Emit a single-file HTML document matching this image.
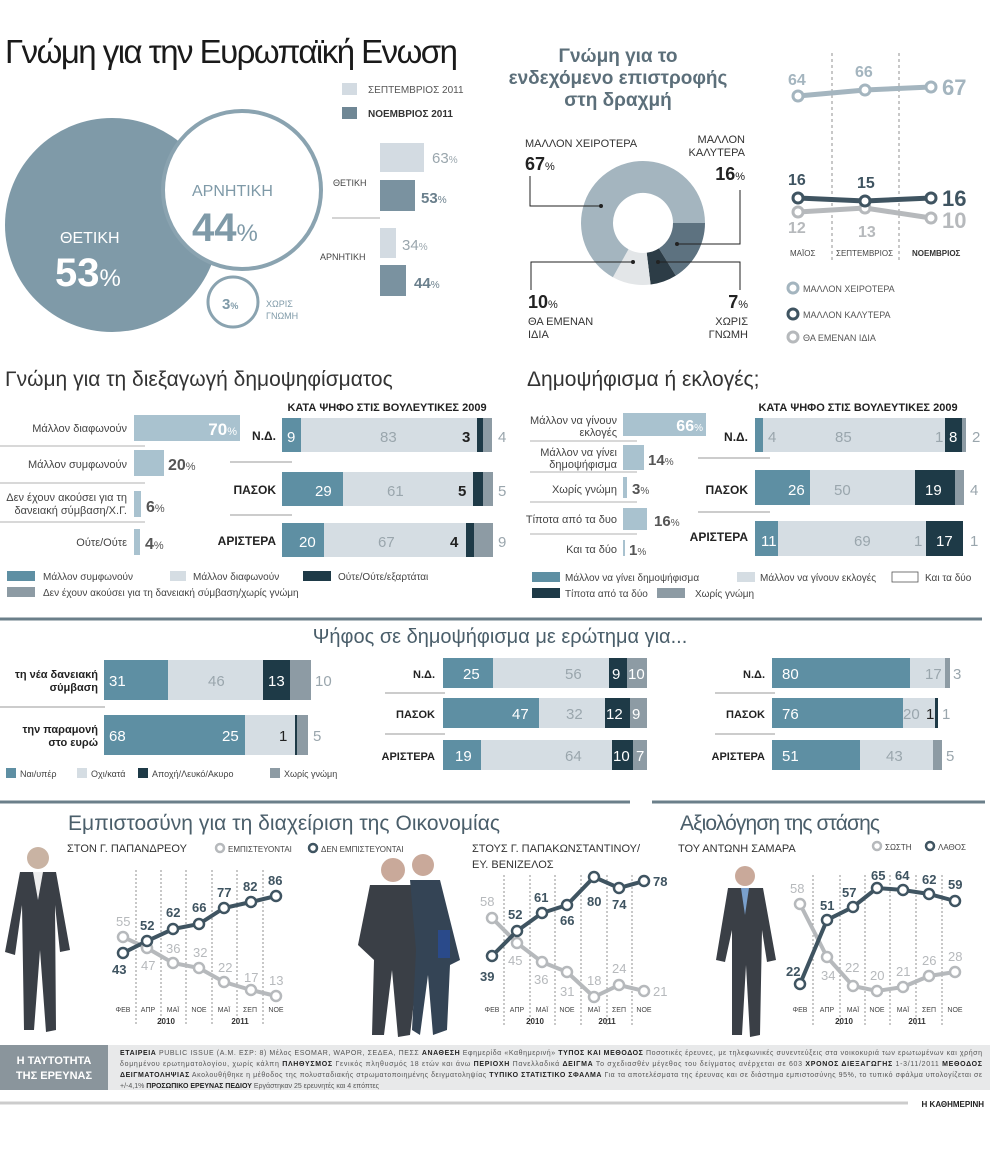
<!DOCTYPE html>
<html><head><meta charset="utf-8"><style>
html,body{margin:0;padding:0;background:#fff;}
svg{display:block;font-family:"Liberation Sans","DejaVu Sans",sans-serif;}
</style></head><body>
<svg width="1000" height="1152" viewBox="0 0 1000 1152" xmlns="http://www.w3.org/2000/svg">
<rect width="1000" height="1152" fill="#fff"/>

<text x="5" y="63" font-size="33" fill="#1a1a1a" textLength="453">Γνώμη για την Ευρωπαϊκή Ενωση</text>
<circle cx="112" cy="225" r="107" fill="#7f9aa8"/>
<circle cx="242" cy="190" r="79" fill="#fff" stroke="#8aa3b0" stroke-width="4"/>
<circle cx="233" cy="302" r="25" fill="#fff" stroke="#8aa3b0" stroke-width="3"/>
<text x="60" y="243" font-size="16" fill="#fff">ΘΕΤΙΚΗ</text>
<text x="55" y="286" font-size="40" font-weight="bold" fill="#fff">53<tspan font-size="24" font-weight="normal">%</tspan></text>
<text x="192" y="196" font-size="16" fill="#7f9aa8">ΑΡΝΗΤΙΚΗ</text>
<text x="192" y="241" font-size="40" font-weight="bold" fill="#7f9aa8">44<tspan font-size="24" font-weight="normal">%</tspan></text>
<text x="222" y="309" font-size="15" font-weight="bold" fill="#7f9aa8">3<tspan font-size="9">%</tspan></text>
<text x="266" y="307" font-size="9" fill="#7f9aa8">ΧΩΡΙΣ</text>
<text x="266" y="319" font-size="9" fill="#7f9aa8">ΓΝΩΜΗ</text>
<rect x="342" y="83" width="15" height="12" fill="#d3dbe2"/>
<text x="368" y="93" font-size="10" fill="#555">ΣΕΠΤΕΜΒΡΙΟΣ 2011</text>
<rect x="342" y="107" width="15" height="12" fill="#6f8795"/>
<text x="368" y="117" font-size="10" font-weight="bold" fill="#333">ΝΟΕΜΒΡΙΟΣ 2011</text>
<rect x="380" y="143" width="44" height="29" fill="#d3dbe2"/>
<text x="432" y="163" font-size="15" fill="#9aa6ad">63<tspan font-size="10">%</tspan></text>
<rect x="380" y="180" width="35" height="31" fill="#7a92a0"/>
<text x="421" y="203" font-size="15" font-weight="bold" fill="#6a7f8c">53<tspan font-size="10" font-weight="normal">%</tspan></text>
<text x="333" y="186" font-size="9" fill="#444">ΘΕΤΙΚΗ</text>
<line x1="332" y1="218" x2="380" y2="218" stroke="#aaa"/>
<rect x="380" y="228" width="16" height="30" fill="#d3dbe2"/>
<text x="402" y="250" font-size="15" fill="#9aa6ad">34<tspan font-size="10">%</tspan></text>
<rect x="380" y="265" width="26" height="31" fill="#7a92a0"/>
<text x="414" y="288" font-size="15" font-weight="bold" fill="#6a7f8c">44<tspan font-size="10" font-weight="normal">%</tspan></text>
<text x="320" y="260" font-size="9" fill="#444">ΑΡΝΗΤΙΚΗ</text>

<text x="618" y="62" font-size="19" font-weight="bold" fill="#5c6f7a" text-anchor="middle">Γνώμη για το</text>
<text x="618" y="84" font-size="19" font-weight="bold" fill="#5c6f7a" text-anchor="middle">ενδεχόμενο επιστροφής</text>
<text x="618" y="106" font-size="19" font-weight="bold" fill="#5c6f7a" text-anchor="middle">στη δραχμή</text>
<g transform="translate(643,223)">
<path d="M62,0 A62,62 0 0 1 32.8,52.6 L15.9,25.4 A30,30 0 0 0 30,0 Z" fill="#5d7280"/>
<path d="M32.8,52.6 A62,62 0 0 1 7.6,61.5 L3.7,29.8 A30,30 0 0 0 15.9,25.4 Z" fill="#2c3c46"/>
<path d="M7.6,61.5 A62,62 0 0 1 -30.1,54.2 L-14.5,26.2 A30,30 0 0 0 3.7,29.8 Z" fill="#e3e6e8"/>
<path d="M-30.1,54.2 A62,62 0 1 1 62,0 L30,0 A30,30 0 1 0 -14.5,26.2 Z" fill="#a4b5bf"/>
</g>
<text x="525" y="147" font-size="11" fill="#333">ΜΑΛΛΟΝ ΧΕΙΡΟΤΕΡΑ</text>
<text x="525" y="170" font-size="18" font-weight="bold" fill="#222">67<tspan font-size="11" font-weight="normal">%</tspan></text>
<polyline points="530,176 530,206 601,206" fill="none" stroke="#222"/>
<circle cx="601" cy="206" r="2" fill="#222"/>
<text x="745" y="143" font-size="11" fill="#333" text-anchor="end">ΜΑΛΛΟΝ</text>
<text x="745" y="156" font-size="11" fill="#333" text-anchor="end">ΚΑΛΥΤΕΡΑ</text>
<text x="745" y="180" font-size="18" font-weight="bold" fill="#222" text-anchor="end">16<tspan font-size="11" font-weight="normal">%</tspan></text>
<polyline points="740,190 740,244 677,244" fill="none" stroke="#222"/>
<circle cx="677" cy="244" r="2" fill="#222"/>
<polyline points="531,290 531,262 633,262" fill="none" stroke="#222"/>
<circle cx="633" cy="262" r="2" fill="#222"/>
<text x="528" y="308" font-size="18" font-weight="bold" fill="#222">10<tspan font-size="11" font-weight="normal">%</tspan></text>
<text x="528" y="325" font-size="11" fill="#333">ΘΑ ΕΜΕΝΑΝ</text>
<text x="528" y="338" font-size="11" fill="#333">ΙΔΙΑ</text>
<polyline points="740,290 740,262 658,262" fill="none" stroke="#222"/>
<circle cx="658" cy="262" r="2" fill="#222"/>
<text x="748" y="308" font-size="18" font-weight="bold" fill="#222" text-anchor="end">7<tspan font-size="11" font-weight="normal">%</tspan></text>
<text x="748" y="325" font-size="11" fill="#333" text-anchor="end">ΧΩΡΙΣ</text>
<text x="748" y="338" font-size="11" fill="#333" text-anchor="end">ΓΝΩΜΗ</text>

<line x1="832" y1="53" x2="832" y2="260" stroke="#777" stroke-dasharray="3,3" stroke-width="0.8"/>
<line x1="899" y1="53" x2="899" y2="260" stroke="#777" stroke-dasharray="3,3" stroke-width="0.8"/>
<polyline points="798,96 865,90 931,87" fill="none" stroke="#a4b5bf" stroke-width="5"/>
<polyline points="798,212 865,208 931,218" fill="none" stroke="#b6b9bc" stroke-width="5"/>
<polyline points="798,198 865,201 931,198" fill="none" stroke="#3f5461" stroke-width="5"/>
<g fill="#fff" stroke-width="3">
<circle cx="798" cy="96" r="5" stroke="#a4b5bf"/><circle cx="865" cy="90" r="5" stroke="#a4b5bf"/><circle cx="931" cy="87" r="5" stroke="#a4b5bf"/>
<circle cx="798" cy="212" r="5" stroke="#b6b9bc"/><circle cx="865" cy="208" r="5" stroke="#b6b9bc"/><circle cx="931" cy="218" r="5" stroke="#b6b9bc"/>
<circle cx="798" cy="198" r="5" stroke="#3f5461"/><circle cx="865" cy="201" r="5" stroke="#3f5461"/><circle cx="931" cy="198" r="5" stroke="#3f5461"/>
</g>
<g font-weight="bold">
<text x="788" y="85" font-size="16" fill="#a4b5bf">64</text>
<text x="855" y="77" font-size="16" fill="#a4b5bf">66</text>
<text x="942" y="95" font-size="22" fill="#a4b5bf">67</text>
<text x="788" y="185" font-size="16" fill="#3f5461">16</text>
<text x="857" y="188" font-size="16" fill="#3f5461">15</text>
<text x="942" y="206" font-size="22" fill="#3f5461">16</text>
<text x="788" y="233" font-size="16" fill="#b6b9bc">12</text>
<text x="858" y="237" font-size="16" fill="#b6b9bc">13</text>
<text x="942" y="228" font-size="22" fill="#b6b9bc">10</text>
</g>
<text x="790" y="256" font-size="8" fill="#444">ΜΑΪΟΣ</text>
<text x="836" y="256" font-size="8" fill="#444">ΣΕΠΤΕΜΒΡΙΟΣ</text>
<text x="912" y="256" font-size="8" font-weight="bold" fill="#333">ΝΟΕΜΒΡΙΟΣ</text>
<g fill="#fff" stroke-width="3">
<circle cx="793" cy="288" r="5" stroke="#a4b5bf"/>
<circle cx="793" cy="314" r="5" stroke="#3f5461"/>
<circle cx="793" cy="337" r="5" stroke="#b6b9bc"/>
</g>
<text x="803" y="292" font-size="9" fill="#555">ΜΑΛΛΟΝ ΧΕΙΡΟΤΕΡΑ</text>
<text x="803" y="318" font-size="9" fill="#555">ΜΑΛΛΟΝ ΚΑΛΥΤΕΡΑ</text>
<text x="803" y="341" font-size="9" fill="#555">ΘΑ ΕΜΕΝΑΝ ΙΔΙΑ</text>

<text x="5" y="386" font-size="21" fill="#333">Γνώμη για τη διεξαγωγή δημοψηφίσματος</text>
<g font-size="11" fill="#444" text-anchor="end">
<text x="127" y="432">Μάλλον διαφωνούν</text>
<text x="127" y="468">Μάλλον συμφωνούν</text>
<text x="127" y="501">Δεν έχουν ακούσει για τη</text>
<text x="127" y="514">δανειακή σύμβαση/Χ.Γ.</text>
<text x="127" y="546">Ούτε/Ούτε</text>
</g>
<g stroke="#999" stroke-width="0.8">
<line x1="0" y1="446" x2="145" y2="446"/><line x1="0" y1="483" x2="145" y2="483"/><line x1="0" y1="522" x2="145" y2="522"/>
</g>
<rect x="134" y="415" width="106" height="26" fill="#a9c2cf"/>
<text x="237" y="435" font-size="17" font-weight="bold" fill="#fff" text-anchor="end">70<tspan font-size="11" font-weight="normal">%</tspan></text>
<rect x="134" y="450" width="30" height="26" fill="#a9c2cf"/>
<text x="168" y="470" font-size="16" font-weight="bold" fill="#555">20<tspan font-size="11" font-weight="normal">%</tspan></text>
<rect x="134" y="491" width="7" height="26" fill="#a9c2cf"/>
<text x="146" y="512" font-size="16" font-weight="bold" fill="#555">6<tspan font-size="11" font-weight="normal">%</tspan></text>
<rect x="134" y="529" width="6" height="26" fill="#a9c2cf"/>
<text x="145" y="549" font-size="16" font-weight="bold" fill="#555">4<tspan font-size="11" font-weight="normal">%</tspan></text>

<text x="387" y="411" font-size="11" font-weight="bold" fill="#222" text-anchor="middle">ΚΑΤΑ ΨΗΦΟ ΣΤΙΣ ΒΟΥΛΕΥΤΙΚΕΣ 2009</text>
<g font-size="12" font-weight="bold" fill="#222" text-anchor="end">
<text x="276" y="440">Ν.Δ.</text><text x="276" y="494">ΠΑΣΟΚ</text><text x="276" y="545">ΑΡΙΣΤΕΡΑ</text>
</g>
<line x1="230" y1="462" x2="292" y2="462" stroke="#999"/><line x1="230" y1="515" x2="292" y2="515" stroke="#999"/>
<rect x="282" y="418" width="19" height="34" fill="#5e8fa3"/><rect x="301" y="418" width="176" height="34" fill="#d5dde3"/>
<rect x="477" y="418" width="6" height="34" fill="#1e3a47"/><rect x="483" y="418" width="9" height="34" fill="#8d9ba4"/>
<rect x="282" y="472" width="61" height="34" fill="#5e8fa3"/><rect x="343" y="472" width="130" height="34" fill="#d5dde3"/>
<rect x="473" y="472" width="10" height="34" fill="#1e3a47"/><rect x="483" y="472" width="10" height="34" fill="#8d9ba4"/>
<rect x="282" y="523" width="42" height="34" fill="#5e8fa3"/><rect x="324" y="523" width="142" height="34" fill="#d5dde3"/>
<rect x="466" y="523" width="8" height="34" fill="#1e3a47"/><rect x="474" y="523" width="19" height="34" fill="#8d9ba4"/>
<g font-size="15">
<text x="287" y="442" fill="#fff">9</text><text x="380" y="442" fill="#9aa6ad">83</text><text x="462" y="442" font-weight="bold" fill="#222">3</text><text x="498" y="442" fill="#9aa6ad">4</text>
<text x="315" y="496" fill="#fff">29</text><text x="387" y="496" fill="#9aa6ad">61</text><text x="458" y="496" font-weight="bold" fill="#222">5</text><text x="498" y="496" fill="#9aa6ad">5</text>
<text x="299" y="547" fill="#fff">20</text><text x="378" y="547" fill="#9aa6ad">67</text><text x="450" y="547" font-weight="bold" fill="#222">4</text><text x="498" y="547" fill="#9aa6ad">9</text>
</g>
<g font-size="10" fill="#444">
<rect x="7" y="571" width="28" height="10" fill="#5e8fa3"/><text x="43" y="580">Μάλλον συμφωνούν</text>
<rect x="170" y="571" width="16" height="10" fill="#d5dde3"/><text x="193" y="580">Μάλλον διαφωνούν</text>
<rect x="303" y="571" width="28" height="10" fill="#1e3a47"/><text x="338" y="580">Ούτε/Ούτε/εξαρτάται</text>
<rect x="7" y="587" width="28" height="10" fill="#8d9ba4"/><text x="43" y="596">Δεν έχουν ακούσει για τη δανειακή σύμβαση/χωρίς γνώμη</text>
</g>

<text x="527" y="386" font-size="21" fill="#333">Δημοψήφισμα ή εκλογές;</text>
<g font-size="11" fill="#444" text-anchor="end">
<text x="617" y="424">Μάλλον να γίνουν</text><text x="617" y="436">εκλογές</text>
<text x="617" y="456">Μάλλον να γίνει</text><text x="617" y="468">δημοψήφισμα</text>
<text x="617" y="493">Χωρίς γνώμη</text>
<text x="617" y="523">Τίποτα από τα δυο</text>
<text x="617" y="553">Και τα δύο</text>
</g>
<g stroke="#999" stroke-width="0.8">
<line x1="530" y1="441" x2="637" y2="441"/><line x1="530" y1="472" x2="637" y2="472"/><line x1="530" y1="502" x2="637" y2="502"/><line x1="530" y1="534" x2="637" y2="534"/>
</g>
<rect x="623" y="413" width="83" height="23" fill="#a9c2cf"/>
<text x="703" y="431" font-size="16" font-weight="bold" fill="#fff" text-anchor="end">66<tspan font-size="10" font-weight="normal">%</tspan></text>
<rect x="623" y="445" width="21" height="25" fill="#a9c2cf"/>
<text x="648" y="465" font-size="15" font-weight="bold" fill="#555">14<tspan font-size="10" font-weight="normal">%</tspan></text>
<rect x="623" y="477" width="4" height="21" fill="#a9c2cf"/>
<text x="632" y="494" font-size="15" font-weight="bold" fill="#555">3<tspan font-size="10" font-weight="normal">%</tspan></text>
<rect x="623" y="508" width="24" height="22" fill="#a9c2cf"/>
<text x="654" y="526" font-size="15" font-weight="bold" fill="#555">16<tspan font-size="10" font-weight="normal">%</tspan></text>
<rect x="623" y="540" width="2" height="16" fill="#a9c2cf"/>
<text x="629" y="555" font-size="15" font-weight="bold" fill="#555">1<tspan font-size="10" font-weight="normal">%</tspan></text>

<text x="858" y="411" font-size="11" font-weight="bold" fill="#222" text-anchor="middle">ΚΑΤΑ ΨΗΦΟ ΣΤΙΣ ΒΟΥΛΕΥΤΙΚΕΣ 2009</text>
<g font-size="12" font-weight="bold" fill="#222" text-anchor="end">
<text x="748" y="441">Ν.Δ.</text><text x="748" y="494">ΠΑΣΟΚ</text><text x="748" y="541">ΑΡΙΣΤΕΡΑ</text>
</g>
<line x1="698" y1="458" x2="770" y2="458" stroke="#999"/><line x1="698" y1="512" x2="770" y2="512" stroke="#999"/>
<rect x="755" y="418" width="8" height="34" fill="#5e8fa3"/><rect x="763" y="418" width="182" height="34" fill="#d5dde3"/>
<rect x="945" y="418" width="17" height="34" fill="#1e3a47"/><rect x="962" y="418" width="4" height="34" fill="#8d9ba4"/>
<rect x="755" y="470" width="55" height="35" fill="#5e8fa3"/><rect x="810" y="470" width="105" height="35" fill="#d5dde3"/>
<rect x="915" y="470" width="40" height="35" fill="#1e3a47"/><rect x="955" y="470" width="9" height="35" fill="#8d9ba4"/>
<rect x="755" y="521" width="23" height="35" fill="#5e8fa3"/><rect x="778" y="521" width="148" height="35" fill="#d5dde3"/>
<rect x="926" y="521" width="37" height="35" fill="#1e3a47"/>
<g font-size="15">
<text x="768" y="442" fill="#9aa6ad">4</text><text x="835" y="442" fill="#9aa6ad">85</text><text x="935" y="442" fill="#9aa6ad">1</text><text x="949" y="442" fill="#fff">8</text><text x="972" y="442" fill="#9aa6ad">2</text>
<text x="788" y="495" fill="#fff">26</text><text x="834" y="495" fill="#9aa6ad">50</text><text x="925" y="495" fill="#fff">19</text><text x="970" y="495" fill="#9aa6ad">4</text>
<text x="761" y="546" fill="#fff">11</text><text x="854" y="546" fill="#9aa6ad">69</text><text x="914" y="546" fill="#9aa6ad">1</text><text x="936" y="546" fill="#fff">17</text><text x="970" y="546" fill="#9aa6ad">1</text>
</g>
<g font-size="10" fill="#444">
<rect x="532" y="572" width="28" height="10" fill="#5e8fa3"/><text x="565" y="581">Μάλλον να γίνει δημοψήφισμα</text>
<rect x="737" y="572" width="18" height="10" fill="#d5dde3"/><text x="760" y="581">Μάλλον να γίνουν εκλογές</text>
<rect x="892" y="572" width="26" height="10" fill="#fff" stroke="#555" stroke-width="0.8"/><text x="925" y="581">Και τα δύο</text>
<rect x="532" y="588" width="28" height="10" fill="#1e3a47"/><text x="565" y="597">Τίποτα από τα δύο</text>
<rect x="657" y="588" width="28" height="10" fill="#8d9ba4"/><text x="695" y="597">Χωρίς γνώμη</text>
</g>

<line x1="0" y1="619" x2="982" y2="619" stroke="#6b7f8a" stroke-width="3"/>
<text x="500" y="643" font-size="20" fill="#4a5e6a" text-anchor="middle">Ψήφος σε δημοψήφισμα με ερώτημα για...</text>
<g font-size="11" font-weight="bold" fill="#222" text-anchor="end">
<text x="98" y="678">τη νέα δανειακή</text><text x="98" y="691">σύμβαση</text>
<text x="98" y="733">την παραμονή</text><text x="98" y="746">στο ευρώ</text>
</g>
<line x1="0" y1="707" x2="105" y2="707" stroke="#999"/>
<rect x="104" y="660" width="64" height="40" fill="#5e8fa3"/><rect x="168" y="660" width="95" height="40" fill="#d5dde3"/>
<rect x="263" y="660" width="27" height="40" fill="#1e3a47"/><rect x="290" y="660" width="21" height="40" fill="#8d9ba4"/>
<rect x="104" y="715" width="141" height="40" fill="#5e8fa3"/><rect x="245" y="715" width="50" height="40" fill="#d5dde3"/>
<rect x="295" y="715" width="2" height="40" fill="#1e3a47"/><rect x="297" y="715" width="11" height="40" fill="#8d9ba4"/>
<g font-size="15">
<text x="109" y="686" fill="#fff">31</text><text x="208" y="686" fill="#9aa6ad">46</text><text x="268" y="686" fill="#fff">13</text><text x="315" y="686" fill="#9aa6ad">10</text>
<text x="109" y="741" fill="#fff">68</text><text x="222" y="741" fill="#fff">25</text><text x="279" y="741" fill="#222">1</text><text x="313" y="741" fill="#9aa6ad">5</text>
</g>
<g font-size="9" fill="#444">
<rect x="6" y="768" width="10" height="10" fill="#5e8fa3"/><text x="20" y="777">Ναι/υπέρ</text>
<rect x="77" y="768" width="10" height="10" fill="#d5dde3"/><text x="91" y="777">Οχι/κατά</text>
<rect x="138" y="768" width="10" height="10" fill="#1e3a47"/><text x="152" y="777">Αποχή/Λευκό/Ακυρο</text>
<rect x="270" y="768" width="10" height="10" fill="#8d9ba4"/><text x="284" y="777">Χωρίς γνώμη</text>
</g>
<g font-size="11" font-weight="bold" fill="#222" text-anchor="end">
<text x="435" y="678">Ν.Δ.</text><text x="435" y="718">ΠΑΣΟΚ</text><text x="435" y="760">ΑΡΙΣΤΕΡΑ</text>
<text x="765" y="678">Ν.Δ.</text><text x="765" y="718">ΠΑΣΟΚ</text><text x="765" y="760">ΑΡΙΣΤΕΡΑ</text>
</g>
<g stroke="#999"><line x1="385" y1="693" x2="445" y2="693"/><line x1="385" y1="734" x2="445" y2="734"/>
<line x1="715" y1="693" x2="775" y2="693"/><line x1="715" y1="734" x2="775" y2="734"/></g>
<rect x="443" y="658" width="50" height="30" fill="#5e8fa3"/><rect x="493" y="658" width="116" height="30" fill="#d5dde3"/>
<rect x="609" y="658" width="18" height="30" fill="#1e3a47"/><rect x="627" y="658" width="20" height="30" fill="#8d9ba4"/>
<rect x="443" y="698" width="96" height="30" fill="#5e8fa3"/><rect x="539" y="698" width="66" height="30" fill="#d5dde3"/>
<rect x="605" y="698" width="25" height="30" fill="#1e3a47"/><rect x="630" y="698" width="17" height="30" fill="#8d9ba4"/>
<rect x="443" y="740" width="38" height="30" fill="#5e8fa3"/><rect x="481" y="740" width="131" height="30" fill="#d5dde3"/>
<rect x="612" y="740" width="21" height="30" fill="#1e3a47"/><rect x="633" y="740" width="14" height="30" fill="#8d9ba4"/>
<g font-size="15">
<text x="463" y="679" fill="#fff">25</text><text x="565" y="679" fill="#9aa6ad">56</text><text x="612" y="679" fill="#fff">9</text><text x="628" y="679" fill="#fff">10</text>
<text x="512" y="719" fill="#fff">47</text><text x="566" y="719" fill="#9aa6ad">32</text><text x="606" y="719" fill="#fff">12</text><text x="632" y="719" fill="#fff">9</text>
<text x="455" y="761" fill="#fff">19</text><text x="565" y="761" fill="#9aa6ad">64</text><text x="613" y="761" fill="#fff">10</text><text x="636" y="761" fill="#fff">7</text>
</g>
<rect x="772" y="658" width="138" height="30" fill="#5e8fa3"/><rect x="910" y="658" width="35" height="30" fill="#d5dde3"/><rect x="945" y="658" width="5" height="30" fill="#8d9ba4"/>
<rect x="772" y="698" width="131" height="30" fill="#5e8fa3"/><rect x="903" y="698" width="32" height="30" fill="#d5dde3"/><rect x="935" y="698" width="3" height="30" fill="#1e3a47"/>
<rect x="772" y="740" width="88" height="30" fill="#5e8fa3"/><rect x="860" y="740" width="73" height="30" fill="#d5dde3"/><rect x="933" y="740" width="9" height="30" fill="#8d9ba4"/>
<g font-size="15">
<text x="782" y="679" fill="#fff">80</text><text x="925" y="679" fill="#9aa6ad">17</text><text x="953" y="679" fill="#9aa6ad">3</text>
<text x="782" y="719" fill="#fff">76</text><text x="903" y="719" fill="#9aa6ad">20</text><text x="926" y="719" fill="#222">1</text><text x="942" y="719" fill="#9aa6ad">1</text>
<text x="782" y="761" fill="#fff">51</text><text x="886" y="761" fill="#9aa6ad">43</text><text x="946" y="761" fill="#9aa6ad">5</text>
</g>

<line x1="0" y1="802" x2="630" y2="802" stroke="#6b7f8a" stroke-width="3"/>
<line x1="652" y1="802" x2="985" y2="802" stroke="#6b7f8a" stroke-width="3"/>
<text x="68" y="830" font-size="21" fill="#4a5e6a" textLength="432">Εμπιστοσύνη για τη διαχείριση της Οικονομίας</text>
<text x="680" y="830" font-size="21" fill="#4a5e6a" textLength="200">Αξιολόγηση της στάσης</text>
<text x="67" y="852" font-size="11" fill="#333">ΣΤΟΝ Γ. ΠΑΠΑΝΔΡΕΟΥ</text>
<circle cx="220" cy="848" r="4" fill="#fff" stroke="#b6b9bc" stroke-width="2.5"/><text x="228" y="852" font-size="8" fill="#444">ΕΜΠΙΣΤΕΥΟΝΤΑΙ</text>
<circle cx="313" cy="848" r="4" fill="#fff" stroke="#3f5461" stroke-width="2.5"/><text x="321" y="852" font-size="8" fill="#444">ΔΕΝ ΕΜΠΙΣΤΕΥΟΝΤΑΙ</text>
<text x="472" y="852" font-size="11" fill="#333">ΣΤΟΥΣ Γ. ΠΑΠΑΚΩΝΣΤΑΝΤΙΝΟΥ/</text>
<text x="472" y="868" font-size="11" fill="#333">ΕΥ. ΒΕΝΙΖΕΛΟΣ</text>
<text x="678" y="852" font-size="11" fill="#333">ΤΟΥ ΑΝΤΩΝΗ ΣΑΜΑΡΑ</text>
<circle cx="877" cy="846" r="4" fill="#fff" stroke="#b6b9bc" stroke-width="2.5"/><text x="885" y="850" font-size="8" fill="#444">ΣΩΣΤΗ</text>
<circle cx="930" cy="846" r="4" fill="#fff" stroke="#3f5461" stroke-width="2.5"/><text x="938" y="850" font-size="8" fill="#444">ΛΑΘΟΣ</text>

<g fill="#3a3f46">
<circle cx="38" cy="858" r="11" fill="#c9b3a3"/>
<path d="M20,872 L56,872 L70,950 L60,952 L55,905 L56,1030 L46,1032 L40,950 L34,1030 L24,1030 L22,905 L15,955 L5,952 Z"/>
<path d="M33,872 L43,872 L38,900 Z" fill="#eee"/>
<circle cx="393" cy="870" r="12" fill="#c9a99a"/>
<circle cx="423" cy="865" r="11" fill="#c9a99a"/>
<path d="M370,885 L412,885 L420,950 L410,1035 L398,1037 L392,970 L384,1035 L372,1035 L374,960 L358,945 Z"/>
<path d="M410,880 L440,880 L460,960 L450,965 L447,1030 L433,1035 L428,975 L420,1035 L412,1030 L416,950 Z" fill="#344455"/>
<rect x="438" y="930" width="12" height="28" fill="#2a4a8a"/>
<circle cx="745" cy="876" r="10" fill="#c9a99a"/>
<path d="M728,888 L763,888 L776,960 L767,962 L762,930 L760,1035 L750,1037 L746,965 L742,1035 L732,1035 L732,930 L725,962 L716,960 Z"/>
<path d="M741,888 L749,888 L745,915 Z" fill="#7aa0cc"/>
</g>

<g stroke="#777" stroke-dasharray="2,2" stroke-width="0.8">
<line x1="136" y1="870" x2="136" y2="1025"/><line x1="161" y1="870" x2="161" y2="1025"/><line x1="186" y1="870" x2="186" y2="1025"/>
<line x1="212" y1="870" x2="212" y2="1025"/><line x1="237" y1="870" x2="237" y2="1025"/><line x1="263" y1="870" x2="263" y2="1025"/>
</g>
<polyline points="123,937 147,948 173,963 199,968 224,982 251,990 276,996" fill="none" stroke="#b6b9bc" stroke-width="4"/>
<polyline points="123,953 147,941 173,929 199,924 224,908 251,902 276,896" fill="none" stroke="#3f5461" stroke-width="4"/>
<g fill="#fff" stroke-width="2.5">
<g stroke="#b6b9bc"><circle cx="123" cy="937" r="5"/><circle cx="147" cy="948" r="5"/><circle cx="173" cy="963" r="5"/><circle cx="199" cy="968" r="5"/><circle cx="224" cy="982" r="5"/><circle cx="251" cy="990" r="5"/><circle cx="276" cy="996" r="5"/></g>
<g stroke="#3f5461"><circle cx="123" cy="953" r="5"/><circle cx="147" cy="941" r="5"/><circle cx="173" cy="929" r="5"/><circle cx="199" cy="924" r="5"/><circle cx="224" cy="908" r="5"/><circle cx="251" cy="902" r="5"/><circle cx="276" cy="896" r="5"/></g>
</g>
<g font-size="13" font-weight="bold" fill="#3f5461">
<text x="112" y="974">43</text><text x="140" y="930">52</text><text x="166" y="917">62</text><text x="192" y="912">66</text><text x="217" y="897">77</text><text x="243" y="891">82</text><text x="268" y="885">86</text>
</g>
<g font-size="13" fill="#b6b9bc">
<text x="116" y="926">55</text><text x="141" y="970">47</text><text x="166" y="953">36</text><text x="193" y="957">32</text><text x="218" y="972">22</text><text x="244" y="982">17</text><text x="269" y="985">13</text>
</g>
<g font-size="7" fill="#444" text-anchor="middle">
<text x="123" y="1012">ΦΕΒ</text><text x="148" y="1012">ΑΠΡ</text><text x="173" y="1012">ΜΑΪ</text><text x="199" y="1012">ΝΟΕ</text><text x="224" y="1012">ΜΑΪ</text><text x="250" y="1012">ΣΕΠ</text><text x="276" y="1012">ΝΟΕ</text>
</g>
<text x="166" y="1024" font-size="8" font-weight="bold" fill="#333" text-anchor="middle">2010</text>
<text x="240" y="1024" font-size="8" font-weight="bold" fill="#333" text-anchor="middle">2011</text>

<g stroke="#777" stroke-dasharray="2,2" stroke-width="0.8">
<line x1="504" y1="875" x2="504" y2="1025"/><line x1="530" y1="875" x2="530" y2="1025"/><line x1="555" y1="875" x2="555" y2="1025"/>
<line x1="581" y1="875" x2="581" y2="1025"/><line x1="607" y1="875" x2="607" y2="1025"/><line x1="632" y1="875" x2="632" y2="1025"/>
</g>
<polyline points="492,918 517,943 542,962 567,972 594,997 619,985 644,991" fill="none" stroke="#b6b9bc" stroke-width="4"/>
<polyline points="492,956 517,931 542,913 567,905 594,877 619,888 644,881" fill="none" stroke="#3f5461" stroke-width="4"/>
<g fill="#fff" stroke-width="2.5">
<g stroke="#b6b9bc"><circle cx="492" cy="918" r="5"/><circle cx="517" cy="943" r="5"/><circle cx="542" cy="962" r="5"/><circle cx="567" cy="972" r="5"/><circle cx="594" cy="997" r="5"/><circle cx="619" cy="985" r="5"/><circle cx="644" cy="991" r="5"/></g>
<g stroke="#3f5461"><circle cx="492" cy="956" r="5"/><circle cx="517" cy="931" r="5"/><circle cx="542" cy="913" r="5"/><circle cx="567" cy="905" r="5"/><circle cx="594" cy="877" r="5"/><circle cx="619" cy="888" r="5"/><circle cx="644" cy="881" r="5"/></g>
</g>
<g font-size="13" font-weight="bold" fill="#3f5461">
<text x="480" y="981">39</text><text x="508" y="919">52</text><text x="534" y="902">61</text><text x="560" y="925">66</text><text x="587" y="906">80</text><text x="612" y="909">74</text><text x="653" y="886">78</text>
</g>
<g font-size="13" fill="#b6b9bc">
<text x="480" y="906">58</text><text x="508" y="965">45</text><text x="534" y="984">36</text><text x="560" y="996">31</text><text x="587" y="985">18</text><text x="612" y="973">24</text><text x="653" y="996">21</text>
</g>
<g font-size="7" fill="#444" text-anchor="middle">
<text x="492" y="1012">ΦΕΒ</text><text x="517" y="1012">ΑΠΡ</text><text x="542" y="1012">ΜΑΪ</text><text x="567" y="1012">ΝΟΕ</text><text x="594" y="1012">ΜΑΪ</text><text x="619" y="1012">ΣΕΠ</text><text x="644" y="1012">ΝΟΕ</text>
</g>
<text x="535" y="1024" font-size="8" font-weight="bold" fill="#333" text-anchor="middle">2010</text>
<text x="607" y="1024" font-size="8" font-weight="bold" fill="#333" text-anchor="middle">2011</text>

<g stroke="#777" stroke-dasharray="2,2" stroke-width="0.8">
<line x1="813" y1="875" x2="813" y2="1025"/><line x1="840" y1="875" x2="840" y2="1025"/><line x1="865" y1="875" x2="865" y2="1025"/>
<line x1="890" y1="875" x2="890" y2="1025"/><line x1="916" y1="875" x2="916" y2="1025"/><line x1="942" y1="875" x2="942" y2="1025"/>
</g>
<polyline points="800,904 827,957 853,986 877,991 903,987 929,976 955,972" fill="none" stroke="#b6b9bc" stroke-width="4"/>
<polyline points="800,984 827,920 853,907 877,888 903,890 929,894 955,901" fill="none" stroke="#3f5461" stroke-width="4"/>
<g fill="#fff" stroke-width="2.5">
<g stroke="#b6b9bc"><circle cx="800" cy="904" r="5"/><circle cx="827" cy="957" r="5"/><circle cx="853" cy="986" r="5"/><circle cx="877" cy="991" r="5"/><circle cx="903" cy="987" r="5"/><circle cx="929" cy="976" r="5"/><circle cx="955" cy="972" r="5"/></g>
<g stroke="#3f5461"><circle cx="800" cy="984" r="5"/><circle cx="827" cy="920" r="5"/><circle cx="853" cy="907" r="5"/><circle cx="877" cy="888" r="5"/><circle cx="903" cy="890" r="5"/><circle cx="929" cy="894" r="5"/><circle cx="955" cy="901" r="5"/></g>
</g>
<g font-size="13" font-weight="bold" fill="#3f5461">
<text x="786" y="976">22</text><text x="820" y="910">51</text><text x="842" y="897">57</text><text x="871" y="880">65</text><text x="895" y="880">64</text><text x="922" y="884">62</text><text x="948" y="889">59</text>
</g>
<g font-size="13" fill="#b6b9bc">
<text x="790" y="893">58</text><text x="821" y="980">34</text><text x="845" y="972">22</text><text x="870" y="980">20</text><text x="896" y="976">21</text><text x="922" y="965">26</text><text x="948" y="961">28</text>
</g>
<g font-size="7" fill="#444" text-anchor="middle">
<text x="800" y="1012">ΦΕΒ</text><text x="827" y="1012">ΑΠΡ</text><text x="853" y="1012">ΜΑΪ</text><text x="877" y="1012">ΝΟΕ</text><text x="903" y="1012">ΜΑΪ</text><text x="929" y="1012">ΣΕΠ</text><text x="955" y="1012">ΝΟΕ</text>
</g>
<text x="844" y="1024" font-size="8" font-weight="bold" fill="#333" text-anchor="middle">2010</text>
<text x="917" y="1024" font-size="8" font-weight="bold" fill="#333" text-anchor="middle">2011</text>

<rect x="0" y="1045" width="990" height="45" fill="#e8e9ea"/>
<rect x="0" y="1045" width="108" height="45" fill="#8a959c"/>
<text x="54" y="1064" font-size="11" font-weight="bold" fill="#fff" text-anchor="middle">Η ΤΑΥΤΟΤΗΤΑ</text>
<text x="54" y="1079" font-size="11" font-weight="bold" fill="#fff" text-anchor="middle">ΤΗΣ ΕΡΕΥΝΑΣ</text>
<g font-size="7" fill="#555">
<text x="120" y="1055" textLength="862"><tspan font-weight="bold" fill="#222">ΕΤΑΙΡΕΙΑ</tspan> PUBLIC ISSUE (Α.Μ. ΕΣΡ: 8) Μέλος ESOMAR, WAPOR, ΣΕΔΕΑ, ΠΕΣΣ <tspan font-weight="bold" fill="#222">ΑΝΑΘΕΣΗ</tspan> Εφημερίδα «Καθημερινή» <tspan font-weight="bold" fill="#222">ΤΥΠΟΣ ΚΑΙ ΜΕΘΟΔΟΣ</tspan> Ποσοτικές έρευνες, με τηλεφωνικές συνεντεύξεις στα νοικοκυριά των ερωτωμένων και χρήση</text>
<text x="120" y="1066" textLength="862">δομημένου ερωτηματολογίου, χωρίς κάλπη <tspan font-weight="bold" fill="#222">ΠΛΗΘΥΣΜΟΣ</tspan> Γενικός πληθυσμός 18 ετών και άνω <tspan font-weight="bold" fill="#222">ΠΕΡΙΟΧΗ</tspan> Πανελλαδικά <tspan font-weight="bold" fill="#222">ΔΕΙΓΜΑ</tspan> Το σχεδιασθέν μέγεθος του δείγματος ανέρχεται σε 603 <tspan font-weight="bold" fill="#222">ΧΡΟΝΟΣ ΔΙΕΞΑΓΩΓΗΣ</tspan> 1-3/11/2011 <tspan font-weight="bold" fill="#222">ΜΕΘΟΔΟΣ</tspan></text>
<text x="120" y="1077" textLength="862"><tspan font-weight="bold" fill="#222">ΔΕΙΓΜΑΤΟΛΗΨΙΑΣ</tspan> Ακολουθήθηκε η μέθοδος της πολυσταδιακής στρωματοποιημένης δειγματοληψίας <tspan font-weight="bold" fill="#222">ΤΥΠΙΚΟ ΣΤΑΤΙΣΤΙΚΟ ΣΦΑΛΜΑ</tspan> Για τα αποτελέσματα της έρευνας και σε διάστημα εμπιστοσύνης 95%, το τυπικό σφάλμα υπολογίζεται σε</text>
<text x="120" y="1088">+/-4,1% <tspan font-weight="bold" fill="#222">ΠΡΟΣΩΠΙΚΟ ΕΡΕΥΝΑΣ ΠΕΔΙΟΥ</tspan> Εργάστηκαν 25 ερευνητές και 4 επόπτες</text>
</g>
<line x1="0" y1="1103" x2="908" y2="1103" stroke="#ccc" stroke-width="3"/>
<text x="984" y="1107" font-size="8" font-weight="bold" fill="#222" text-anchor="end">Η ΚΑΘΗΜΕΡΙΝΗ</text>
</svg>
</body></html>
